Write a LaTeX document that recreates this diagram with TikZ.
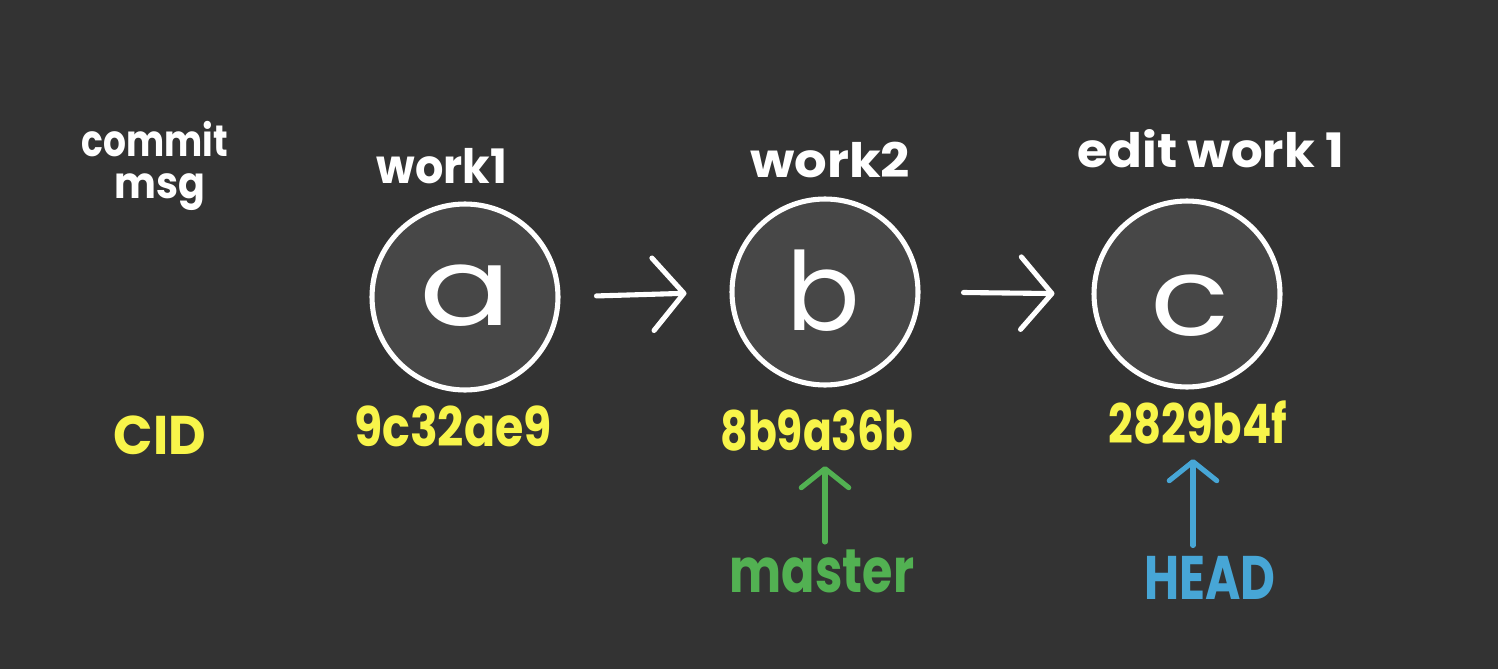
\documentclass[tikz,border=0pt]{standalone}
\usepackage{fontspec}
\setmainfont{Poppins}
\usetikzlibrary{arrows.meta}
\definecolor{bg}{HTML}{333333}
\definecolor{cfill}{HTML}{474747}
\definecolor{hy}{HTML}{F8F54A}
\definecolor{hg}{HTML}{52B152}
\definecolor{hb}{HTML}{47A6D6}
\newcommand{\fs}[1]{\fontsize{#1}{#1}\selectfont\bfseries}
\begin{document}
\begin{tikzpicture}[x=0.02cm,y=-0.02cm,
  commit/.style={circle,draw=white,fill=cfill,line width=2.9pt,minimum size=3.72cm,inner sep=0pt},
  lbl/.style={anchor=base,inner sep=0pt,text=white},
  big/.style={lbl,font=\fontsize{62}{62}\selectfont},
  msgtxt/.style={lbl,font=\fs{27}},
  hash/.style={anchor=base,inner sep=0pt,text=hy,font=\fs{31},xscale=0.78},
  conn/.style={draw=white,line width=2.9pt,line cap=round,line join=round,-{Straight Barb[length=0.62cm,width=1.45cm,line join=round,line cap=round]}},
  ptr/.style={line width=2.9pt,line cap=round,line join=round,-{Straight Barb[length=0.38cm,width=0.95cm,line join=round,line cap=round]}}
]
\fill[bg] (0,0) rectangle (1498,669);
\useasboundingbox (0,0) rectangle (1498,669);

% commits
\node[commit] (a) at (465,297) {};
\node[commit] (b) at (825,292) {};
\node[commit] (c) at (1187,294) {};
\node[big,xscale=1.25] (la) at (466,325) {a};
\node[big] (lb) at (823,330) {b};
\node[big,xscale=1.2] (lc) at (1190,335) {c};

% messages
\node[msgtxt,xscale=0.94] (ma) at (442,183) {work1};
\node[msgtxt,xscale=1.08] (mb) at (830,177) {work2};
\node[msgtxt,xscale=1.05] (mc) at (1211,168) {edit work 1};
\node[lbl,font=\fs{25},xscale=0.82] (cm1) at (155,156) {commit};
\node[lbl,font=\fs{25},xscale=0.9] (cm2) at (160,198) {msg};

% ids
\node[lbl,text=hy,font=\fs{31},xscale=0.95] (cid) at (160,454) {CID};
\node[hash,xscale=1.08] (ha) at (453,446) {9c32ae9};
\node[hash] (hb2) at (817,450) {8b9a36b};
\node[hash,xscale=1.02] (hc) at (1198,443) {2829b4f};

% refs
\node[lbl,text=hg,font=\fs{35},xscale=0.8] (master) at (822,592) {master};
\node[lbl,text=hb,font=\fs{35},xscale=0.78] (head) at (1210,599) {HEAD};

% connectors
\draw[conn,shorten <=0.72cm,shorten >=0.86cm] (a.east) -- (b.west);
\draw[conn,shorten <=0.86cm,shorten >=0.74cm] (b.east) -- (c.west);
\draw[ptr,draw=hg,shorten <=0.14cm,shorten >=0.3cm] ([xshift=0.06cm]master.north) -- ([xshift=0.06cm]master.north |- hb2.south);
\draw[ptr,draw=hb,shorten <=0.2cm,shorten >=0.3cm] ([xshift=-0.34cm]head.north) -- ([xshift=-0.34cm]head.north |- hc.south);
\end{tikzpicture}
\end{document}
